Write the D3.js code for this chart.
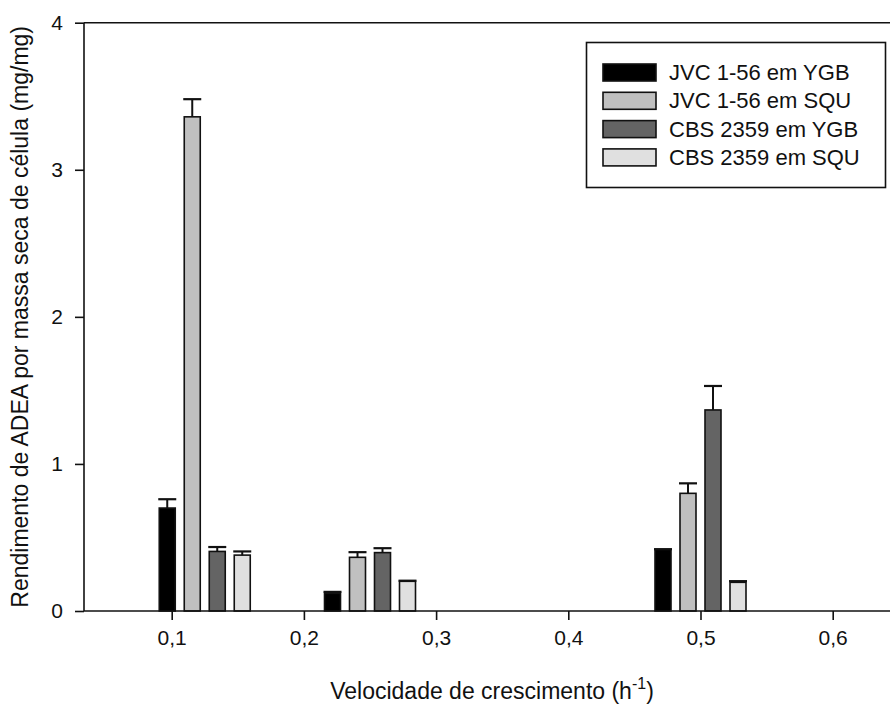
<!DOCTYPE html>
<html>
<head>
<meta charset="utf-8">
<title>Rendimento de ADEA</title>
<script src="https://d3js.org/d3.v7.min.js"></script>
<style>
  html, body { margin:0; padding:0; background:#fff; }
  svg { display:block; font-family: Arial, "Liberation Sans", sans-serif; }
</style>
</head>
<body>
<svg id="chart"></svg>
<script>
var width = 890,
    height = 715;

// data
var rates = [0.125, 0.25, 0.5];
var seriesNames = ["JVC 1-56 em YGB", "JVC 1-56 em SQU", "CBS 2359 em YGB", "CBS 2359 em SQU"];
var jvcYgb = [0.70, 0.12, 0.42];
var jvcYgbErr = [0.06, 0.01, 0.0];
var jvcSqu = [3.36, 0.365, 0.80];
var jvcSquErr = [0.12, 0.035, 0.068];
var cbsYgb = [0.405, 0.397, 1.367];
var cbsYgbErr = [0.03, 0.03, 0.163];
var cbsSqu = [0.38, 0.202, 0.195];
var cbsSquErr = [0.025, 0.004, 0.008];
var xTicks = [0.1, 0.2, 0.3, 0.4, 0.5, 0.6];
var yTicks = [0, 1, 2, 3, 4];

var values = [jvcYgb, jvcSqu, cbsYgb, cbsSqu];
var errors = [jvcYgbErr, jvcSquErr, cbsYgbErr, cbsSquErr];
var colors = ["#000000", "#c0c0c0", "#646464", "#e0e0e0"];

var svg = d3.select("#chart")
    .attr("width", width)
    .attr("height", height);

var x = d3.scaleLinear().domain([0.1, 0.6]).range([171.7, 832.7]);
var y = d3.scaleLinear().domain([0, 4]).range([611, 22.7]);
var left = 84, right = 890;

var barW = 16, pitch = 25, capW = 18;

// bars
for (var s = 0; s < 4; s++) {
  var g = svg.append("g");
  var pts = rates.map(function(r, i) { return {r: r, v: values[s][i], e: errors[s][i], s: s}; });
  g.selectAll("rect").data(pts).enter().append("rect")
    .attr("x", function(d) { return x(d.r) + (d.s - 1.5) * pitch - barW / 2; })
    .attr("y", function(d) { return y(d.v); })
    .attr("width", barW)
    .attr("height", function(d) { return y(0) - y(d.v); })
    .attr("fill", colors[s])
    .attr("stroke", "#111")
    .attr("stroke-width", 1.6);
  // error bars (upper only)
  g.selectAll("line.err").data(pts).enter().append("line")
    .attr("x1", function(d) { return x(d.r) + (d.s - 1.5) * pitch; })
    .attr("x2", function(d) { return x(d.r) + (d.s - 1.5) * pitch; })
    .attr("y1", function(d) { return y(d.v); })
    .attr("y2", function(d) { return y(d.v + d.e); })
    .attr("stroke", "#111").attr("stroke-width", 2);
  g.selectAll("line.cap").data(pts).enter().append("line")
    .attr("x1", function(d) { return x(d.r) + (d.s - 1.5) * pitch - capW / 2; })
    .attr("x2", function(d) { return x(d.r) + (d.s - 1.5) * pitch + capW / 2; })
    .attr("y1", function(d) { return y(d.v + d.e); })
    .attr("y2", function(d) { return y(d.v + d.e); })
    .attr("stroke", "#111").attr("stroke-width", 2.2);
}

// axes
var xAxis = svg.append("g")
  .attr("transform", "translate(0," + y(0) + ")")
  .call(d3.axisBottom(x).tickValues(xTicks).tickSize(9).tickPadding(10)
    .tickFormat(function(d) { return d3.format(".1f")(d).replace(".", ","); }));
xAxis.select(".domain").attr("d", "M" + left + ",0H" + right);

var yAxis = svg.append("g")
  .attr("transform", "translate(" + left + ",0)")
  .call(d3.axisLeft(y).tickValues(yTicks).tickSize(9).tickPadding(12).tickFormat(d3.format("d")));
yAxis.select(".domain").attr("d", "M0," + y(4) + "V" + y(0));

svg.selectAll(".domain, .tick line").attr("stroke", "#111").attr("stroke-width", 1.6);
svg.selectAll(".tick text").attr("font-size", 21).attr("fill", "#111")
  .attr("font-family", "Arial, 'Liberation Sans', sans-serif");

// top frame line
svg.append("line")
  .attr("x1", left).attr("x2", right)
  .attr("y1", y(4)).attr("y2", y(4))
  .attr("stroke", "#111").attr("stroke-width", 1.6);

// axis titles
var xt = svg.append("text")
  .attr("x", 492).attr("y", 699)
  .attr("text-anchor", "middle")
  .attr("font-size", 23).attr("fill", "#111");
xt.append("tspan").text("Velocidade de crescimento (h");
xt.append("tspan").attr("dy", -10).attr("font-size", 16).text("-1");
xt.append("tspan").attr("dy", 10).text(")");

svg.append("text")
  .attr("transform", "translate(28," + ((y(0) + y(4)) / 2) + ") rotate(-90)")
  .attr("text-anchor", "middle")
  .attr("font-size", 23).attr("fill", "#111")
  .text("Rendimento de ADEA por massa seca de célula (mg/mg)");

// legend
var lg = svg.append("g");
lg.append("rect")
  .attr("x", 586.5).attr("y", 42.5).attr("width", 299).attr("height", 145)
  .attr("fill", "#fff").attr("stroke", "#111").attr("stroke-width", 1.6);
var rows = lg.selectAll("g.row").data(seriesNames).enter().append("g")
  .attr("transform", function(d, i) { return "translate(603," + (64 + i * 28.3) + ")"; });
rows.append("rect")
  .attr("width", 53).attr("height", 17)
  .attr("fill", function(d, i) { return colors[i]; })
  .attr("stroke", "#111").attr("stroke-width", 1.6);
rows.append("text")
  .attr("x", 66).attr("y", 16)
  .attr("font-size", 22).attr("fill", "#111")
  .text(function(d) { return d; });
</script>
</body>
</html>
